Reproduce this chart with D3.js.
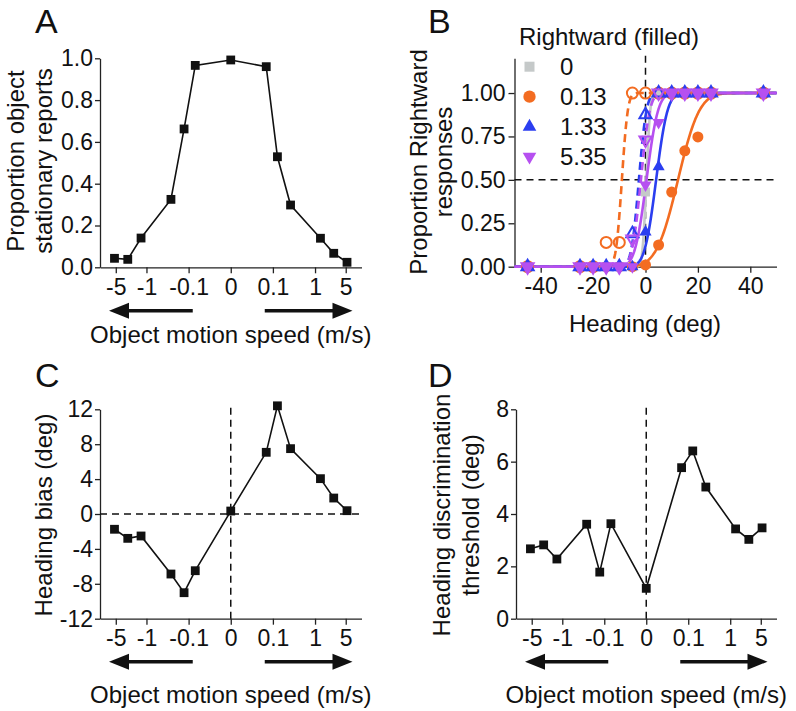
<!DOCTYPE html>
<html><head><meta charset="utf-8">
<script src="https://cdn.jsdelivr.net/npm/d3@7"></script>
<style>body{margin:0;background:#fff} text{font-family:"Liberation Sans",Arial,Helvetica,sans-serif;fill:#111}</style>
</head><body><svg id="c" width="796" height="711"></svg>
<script>
// ---------- data ----------
const speeds = [-5.35,-2.67,-1.33,-0.27,-0.13,-0.067,0,0.067,0.13,0.27,1.33,2.67,5.35];
const speedTicks = [-5,-1,-0.1,0,0.1,1,5];
const speedTickLabels = ["-5","-1","-0.1","0","0.1","1","5"];
const stationaryProp = [0.043,0.038,0.14,0.325,0.662,0.966,0.992,0.96,0.529,0.298,0.139,0.067,0.024];
const headingBias = [-1.75,-2.79,-2.52,-6.88,-9.02,-6.5,0.34,7.07,12.4,7.49,4.05,1.83,0.38];
const threshold = [2.67,2.82,2.28,3.61,1.78,3.63,1.16,5.77,6.41,5.03,3.43,3.03,3.47];

const headings = [-45,-25,-20,-15,-10,-5,0,5,10,15,20,25,45];
const grayFilled   = [0,0,0,0,0,0,0.43,1,1,1,1,1,1];
const orangeFilled = [0,0,0,0,0,0,0.01,0.125,0.43,0.667,0.747,1,1];
const orangeOpen   = [0,0,0,0.14,0.14,1,1,1,1,1,1,1,1];
const blueFilled   = [0,0,0,0,0,0,0.2,0.575,1,1,1,1,1];
const blueOpen     = [0,0,0,0,0,0.19,0.875,1,1,1,1,1,1];
const purpleFilled = [0,0,0,0,0,0,0.47,0.83,1,1,1,1,1];
const purpleOpen   = [0,0,0,0,0,0.16,0.73,1,1,1,1,1,1];
// fitted cumulative-Gaussian parameters (bias, sigma) for each series above
const fitBias  = [0.34, 12.4, -9.02, 4.05, -2.52, 0.38, -1.75];
const fitSigma = [1.16, 6.41, 1.78, 3.43, 2.28, 3.47, 2.67];
const legendLabels = ["0","0.13","1.33","5.35"];
const pTicks = [0,0.25,0.5,0.75,1];
const headingTicks = [-40,-20,0,20,40];

// ---------- helpers ----------
const svg = d3.select("#c");
const FT = 23, FL = 24;
const gray="#c5c9c9", orange="#f36c21", blue="#2b3ef0", purple="#b650f0";

function erf(x){const s=Math.sign(x);x=Math.abs(x);const t=1/(1+0.3275911*x);
  const y=1-(((((1.061405429*t-1.453152027)*t)+1.421413741)*t-0.284496736)*t+0.254829592)*t*Math.exp(-x*x);return s*y;}
const Phi = z => 0.5*(1+erf(z/Math.SQRT2));

function styleAxis(g){
  g.selectAll("path.domain").attr("stroke","#222").attr("stroke-width",1.3);
  g.selectAll(".tick line").attr("stroke","#222").attr("stroke-width",1.3);
  g.selectAll(".tick text").attr("font-size",FT).attr("font-family","Liberation Sans, Arial, sans-serif").attr("fill","#111");
}
function letter(t,x,y){svg.append("text").attr("x",x).attr("y",y).attr("font-size",34).text(t);}
function yLabel(lines,xs,cy){
  lines.forEach((l,i)=>svg.append("text").attr("transform",`translate(${xs[i]},${cy}) rotate(-90)`)
    .attr("text-anchor","middle").attr("font-size",FL).text(l));
}
function xLabel(t,cx,y){svg.append("text").attr("x",cx).attr("y",y).attr("text-anchor","middle").attr("font-size",FL).text(t);}
function arrow(x1,x2,y){ // from x1 to tip x2
  const d = x2>x1?1:-1, hl=20, hw=8;
  svg.append("line").attr("x1",x1).attr("x2",x2-d*hl+d*1).attr("y1",y).attr("y2",y).attr("stroke","#111").attr("stroke-width",3.5);
  svg.append("path").attr("d",`M${x2},${y}L${x2-d*hl},${y-hw}L${x2-d*hl},${y+hw}Z`).attr("fill","#111");
}

function speedPanel(opt){
  const x = d3.scaleSymlog().constant(0.0125).domain([-11.4,11.4]).range([opt.x0,opt.x1]);
  const y = d3.scaleLinear().domain(opt.yDomain).range([opt.yb,opt.yt]);
  const gx = svg.append("g").attr("transform",`translate(0,${opt.yb})`)
    .call(d3.axisBottom(x).tickValues(speedTicks).tickFormat((d,i)=>speedTickLabels[i]).tickSize(6).tickSizeOuter(0).tickPadding(5));
  styleAxis(gx);
  const gy = svg.append("g").attr("transform",`translate(${opt.x0},0)`)
    .call(d3.axisLeft(y).tickValues(opt.yTicks).tickFormat(opt.yFmt).tickSize(5).tickSizeOuter(0).tickPadding(2));
  styleAxis(gy);
  if(opt.hzero){
    svg.append("line").attr("x1",opt.x0).attr("x2",opt.x1).attr("y1",y(0)).attr("y2",y(0))
      .attr("stroke","#111").attr("stroke-width",1.5).attr("stroke-dasharray","7,5");
  }
  if(opt.vzero){
    svg.append("line").attr("x1",x(0)).attr("x2",x(0)).attr("y1",opt.yb).attr("y2",opt.yt-3)
      .attr("stroke","#111").attr("stroke-width",1.5).attr("stroke-dasharray","7,5");
  }
  const pts = speeds.map((s,i)=>[x(s),y(opt.vals[i])]);
  svg.append("path").attr("d",d3.line()(pts)).attr("fill","none").attr("stroke","#111").attr("stroke-width",1.6);
  svg.selectAll(null).data(pts).enter().append("rect")
    .attr("x",d=>d[0]-4.4).attr("y",d=>d[1]-4.4).attr("width",8.8).attr("height",8.8).attr("fill","#111");
  const cx = x(0);
  arrow(cx-38, opt.x0+9, opt.ay);
  arrow(cx+34, opt.x1-9, opt.ay);
  xLabel("Object motion speed (m/s)", cx, opt.ly);
}

// ---------- Panel A ----------
letter("A",35,33);
speedPanel({x0:100,x1:361.5,yb:267.3,yt:58.3,yDomain:[0,1],yTicks:[0,0.2,0.4,0.6,0.8,1.0],
  yFmt:d3.format(".1f"),vals:stationaryProp,ay:310.7,ly:343});
yLabel(["Proportion object","stationary reports"],[24,52],161);

// ---------- Panel C ----------
letter("C",35,387);
speedPanel({x0:100,x1:361.5,yb:618.7,yt:409.3,yDomain:[-12,12],yTicks:[-12,-8,-4,0,4,8,12],
  yFmt:d=>String(d).replace("\u2212","-"),vals:headingBias,hzero:true,vzero:true,ay:661.7,ly:703});
yLabel(["Heading bias (deg)"],[52],515);

// ---------- Panel D ----------
letter("D",428,387);
speedPanel({x0:516,x1:776.5,yb:618.7,yt:409.3,yDomain:[0,8],yTicks:[0,2,4,6,8],
  yFmt:d3.format("d"),vals:threshold,vzero:true,ay:661.7,ly:703});
yLabel(["Heading discrimination","threshold (deg)"],[450,479],515);

// ---------- Panel B ----------
letter("B",428,33);
{
  const x = d3.scaleLinear().domain([-50,50]).range([514.5,776.5]);
  const y = d3.scaleLinear().domain([0,1.2]).range([266.7,58.3]);
  const gx = svg.append("g").attr("transform","translate(0,266.7)")
    .call(d3.axisBottom(x).tickValues(headingTicks).tickFormat(d=>String(d)).tickSize(6).tickSizeOuter(0).tickPadding(5));
  styleAxis(gx);
  const gy = svg.append("g").attr("transform","translate(514.5,0)")
    .call(d3.axisLeft(y).tickValues(pTicks).tickFormat(d3.format(".2f")).tickSize(6).tickSizeOuter(0).tickPadding(3));
  styleAxis(gy);
  svg.append("line").attr("x1",514.5).attr("x2",776.5).attr("y1",y(0.5)).attr("y2",y(0.5))
    .attr("stroke","#111").attr("stroke-width",1.5).attr("stroke-dasharray","7,5");
  svg.append("line").attr("x1",x(0)).attr("x2",x(0)).attr("y1",266.7).attr("y2",55)
    .attr("stroke","#111").attr("stroke-width",1.5).attr("stroke-dasharray","7,5");

  const series = [
    {v:grayFilled,c:gray,sym:"square",open:false},
    {v:orangeFilled,c:orange,sym:"circle",open:false},
    {v:orangeOpen,c:orange,sym:"circle",open:true},
    {v:blueFilled,c:blue,sym:"up",open:false},
    {v:blueOpen,c:blue,sym:"up",open:true},
    {v:purpleFilled,c:purple,sym:"down",open:false},
    {v:purpleOpen,c:purple,sym:"down",open:true}
  ];
  const hx = d3.range(-50,50.001,0.2);
  series.forEach((s,i)=>{
    const pts = hx.map(h=>[x(h),y(Phi((h-fitBias[i])/fitSigma[i]))]);
    svg.append("path").attr("d",d3.line()(pts)).attr("fill","none").attr("stroke",s.c)
      .attr("stroke-width",2.6).attr("stroke-dasharray",s.open?"8,5":null);
  });
  const symPath = {
    square:d3.symbol(d3.symbolSquare,80)(),
    circle:d3.symbol(d3.symbolCircle,95)(),
    up:d3.symbol(d3.symbolTriangle,64)(),
    down:d3.symbol(d3.symbolTriangle,64)()
  };
  function marker(sym,c,open,px,py,scale){
    svg.append("path").attr("d",symPath[sym])
      .attr("transform",`translate(${px},${py}) scale(${scale||1})${sym==="down"?" rotate(180)":""}`)
      .attr("fill",open?"none":c).attr("stroke",open?c:"none").attr("stroke-width",open?2:0);
  }
  series.forEach(s=>{
    headings.forEach((h,j)=>marker(s.sym,s.c,s.open,x(h),y(s.v[j])));
  });
  // legend
  svg.append("text").attr("x",519).attr("y",45).attr("font-size",FL).text("Rightward (filled)");
  const legSym = [["square",gray],["circle",orange],["up",blue],["down",purple]];
  legendLabels.forEach((l,i)=>{
    const cy = 66.7+30*i;
    marker(legSym[i][0],legSym[i][1],false,529.5,cy,1.12);
    svg.append("text").attr("x",560).attr("y",cy+8.5).attr("font-size",FL).text(l);
  });
  yLabel(["Proportion Rightward","responses"],[427,452],162);
  xLabel("Heading (deg)",645,332);
}
</script></body></html>
